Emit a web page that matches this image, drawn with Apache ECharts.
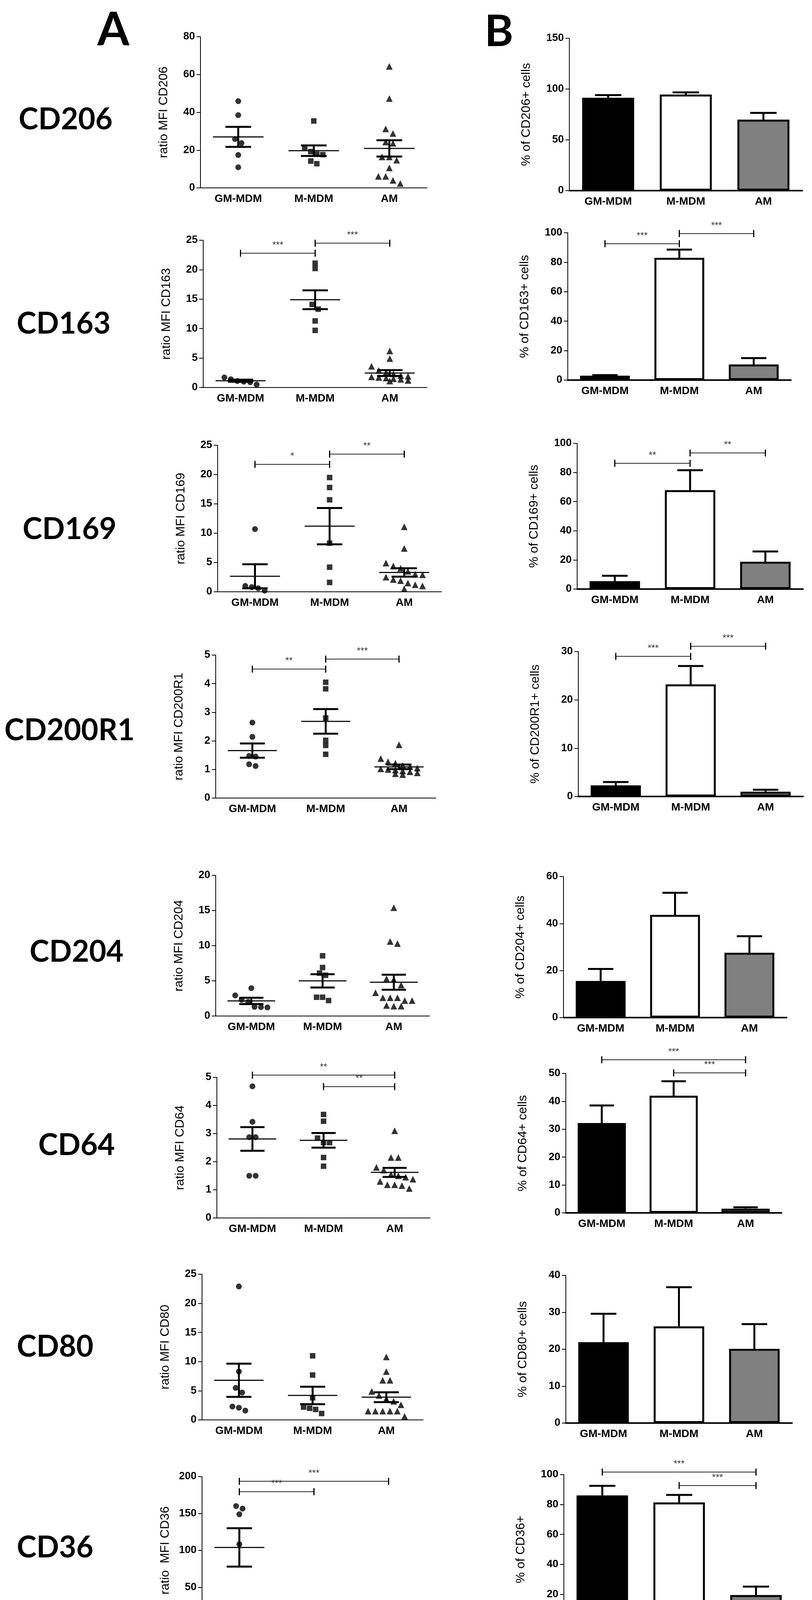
<!DOCTYPE html>
<html lang="en">
<head>
<meta charset="UTF-8">
<title>Macrophage markers</title>
<script src="https://cdn.jsdelivr.net/npm/echarts@6/dist/echarts.min.js"></script>
<style>
  html, body { margin: 0; padding: 0; background: #fff; }
  #chart { width: 2078px; height: 4242px; }
</style>
</head>
<body>
<div id="chart"></div>
<script>
// ---- data ----
var categories = ['GM-MDM', 'M-MDM', 'AM'];
var markers = ['CD206', 'CD163', 'CD169', 'CD200R1', 'CD204', 'CD64', 'CD80', 'CD36'];

// panel A: individual ratio MFI values, [GM-MDM, M-MDM, AM]
var cd206Points = [[45.9, 38.5, 25.9, 23.7, 17.4, 10.9], [35.4, 20.9, 19.2, 17.9, 17.6, 14.2, 12.8],
  [64.3, 47.3, 31.2, 28.8, 24.3, 23.6, 16.4, 16.4, 14.7, 10.6, 6.1, 6.1, 4.0, 2.3]];
var cd163Points = [[1.7, 1.4, 1.1, 1.0, 0.9, 0.5], [21.1, 20.2, 14.1, 13.3, 11.3, 9.7],
  [6.2, 4.9, 3.6, 2.9, 2.6, 2.3, 2.0, 1.9, 1.8, 1.7, 1.6, 1.5, 1.4, 1.2, 1.1]];
var cd169Points = [[10.7, 1.0, 0.8, 0.6, 0.2], [19.5, 17.8, 15.7, 8.3, 4.2, 1.6],
  [11.1, 7.4, 4.9, 4.4, 4.0, 3.5, 3.0, 2.9, 2.5, 2.1, 1.9, 1.5, 1.2, 1.0, 0.5]];
var cd200r1Points = [[2.64, 2.14, 1.47, 1.45, 1.18, 1.12], [4.05, 3.82, 2.8, 2.02, 1.84, 1.53],
  [1.86, 1.38, 1.27, 1.22, 1.14, 1.1, 1.05, 1.02, 1.0, 0.98, 0.95, 0.92, 0.88, 0.85, 0.82]];
var cd204Points = [[3.96, 2.93, 2.3, 2.0, 1.3, 1.26, 1.22], [8.56, 6.9, 6.1, 5.8, 2.67, 2.67, 2.2],
  [15.4, 10.6, 10.3, 5.3, 5.2, 4.4, 3.3, 2.6, 2.6, 2.6, 2.2, 2.2, 1.5, 1.4, 1.4]];
var cd64Points = [[4.68, 3.42, 2.87, 2.87, 1.5, 1.5], [3.68, 3.44, 2.84, 2.68, 2.68, 2.15, 1.84],
  [3.1, 2.15, 2.15, 1.8, 1.7, 1.55, 1.5, 1.45, 1.38, 1.3, 1.18, 1.18, 1.15, 1.05]];
var cd80Points = [[22.9, 8.3, 5.5, 4.7, 2.3, 2.1, 1.6], [11.0, 7.7, 3.8, 2.2, 2.0, 1.8, 1.1],
  [10.8, 8.3, 6.8, 6.8, 4.9, 4.2, 3.6, 3.2, 2.6, 1.5, 1.5, 1.5, 1.5, 1.5, 0.6]];
var cd36Points = [[160, 156.6, 148.9, 108.3, 24.7, 24.7], [28.2, 26.5, 21.9, 19.0, 17.3, 17.3, 5.3],
  [14.8, 10.6, 7.0, 6.0, 4.2, 3.5, 2.5, 2.5, 2.5, 2.0, 1.8, 1.5, 1.2, 1.0]];
var mfiPoints = [cd206Points, cd163Points, cd169Points, cd200r1Points, cd204Points, cd64Points, cd80Points, cd36Points];

// mean and SEM lines drawn on the dot plots
var mfiMean = [[27.0, 19.7, 20.9], [1.15, 14.9, 2.45], [2.65, 11.2, 3.3], [1.66, 2.68, 1.09],
  [2.15, 5.0, 4.8], [2.81, 2.76, 1.62], [6.8, 4.2, 3.9], [104, 18.7, 3.8]];
var mfiSem = [[5.3, 2.8, 4.3], [0.17, 1.6, 0.5], [2.05, 3.1, 0.72], [0.25, 0.43, 0.08],
  [0.45, 0.95, 1.07], [0.42, 0.26, 0.16], [2.85, 1.5, 0.85], [26, 2.8, 1.1]];

// panel B: % positive cells, mean and SEM
var pctMean = [[91.4, 94.6, 69.9], [3.0, 83.0, 10.6], [5.4, 67.9, 18.8], [2.3, 23.2, 1.0],
  [15.6, 43.7, 27.6], [32.2, 42.0, 1.5], [21.9, 26.2, 20.1], [86.1, 81.4, 19.5]];
var pctSem = [[2.6, 2.1, 6.6], [0.4, 5.6, 4.3], [3.7, 13.7, 7.0], [0.7, 3.8, 0.4],
  [5.1, 9.4, 7.0], [6.3, 5.2, 0.5], [7.7, 10.6, 6.7], [6.4, 5.0, 5.6]];

// significance brackets: [from, to, height, stars]
var mfiSig = [[], [[0, 1, 22.8, '***'], [1, 2, 24.5, '***']], [[0, 1, 21.75, '*'], [1, 2, 23.5, '**']],
  [[0, 1, 4.51, '**'], [1, 2, 4.86, '***']], [], [[0, 2, 5.08, '**'], [1, 2, 4.67, '**']], [],
  [[0, 2, 193.6, '***'], [0, 1, 179.5, '***']]];
var pctSig = [[], [[0, 1, 92.6, '***'], [1, 2, 99.5, '***']], [[0, 1, 86.3, '**'], [1, 2, 93.4, '**']],
  [[0, 1, 29.0, '***'], [1, 2, 31.1, '***']], [], [[0, 2, 54.9, '***'], [1, 2, 50.2, '***']], [],
  [[0, 2, 101.7, '***'], [1, 2, 92.7, '***']]];

// axis ticks
var mfiAxisMax = [80, 25, 25, 5, 20, 5, 25, 200];
var mfiAxisStep = [20, 5, 5, 1, 5, 1, 5, 50];
var pctAxisMax = [150, 100, 100, 30, 60, 50, 40, 100];
var pctAxisStep = [50, 20, 20, 10, 20, 10, 10, 20];

var mfiNames = ['ratio MFI CD206', 'ratio MFI CD163', 'ratio MFI CD169', 'ratio MFI CD200R1',
  'ratio MFI CD204', 'ratio MFI CD64', 'ratio MFI CD80', 'ratio  MFI CD36'];
var pctNames = ['% of CD206+ cells', '% of CD163+ cells', '% of CD169+ cells', '% of CD200R1+ cells',
  '% of CD204+ cells', '% of CD64+ cells', '% of CD80+ cells', '% of CD36+'];

// ---- layout ----
// plot boxes in pixels: left, top, right, bottom (zero line)
var leftBoxes = [[513, 94, 1093, 481], [520, 615, 1093, 992], [557, 1140, 1130, 1515], [552, 1677, 1115, 2043],
  [552, 2241, 1099, 2601], [555, 2758, 1101, 3118], [517, 3262, 1083, 3635], [517, 3780, 1090, 4158]];
var rightBoxes = [[1457, 98, 2053, 488], [1453, 596, 2024, 973], [1477, 1135, 2055, 1508], [1480, 1668, 2055, 2039],
  [1442, 2244, 2013, 2605], [1448, 2748, 2000, 3105], [1448, 3265, 2027, 3643], [1443, 3775, 2033, 4158]];
var rowLabelPos = [[168, 306], [163, 829], [178, 1355], [178, 1870], [196, 2437], [196, 2932], [141, 3448], [141, 3962]];

var FONT = 'Liberation Sans, Arial, sans-serif';
var symbols = ['circle', 'rect', 'triangle'];
var symbolSizes = [15, 14, 17];
var barColors = ['#000000', '#ffffff', '#808080'];

var grids = [], xAxes = [], yAxes = [], series = [];

// spread points with nearly equal values sideways, like a dot plot
function spreadOffsets(values, pxPerUnit, size) {
  var order = values.map(function (v, i) { return i; }).sort(function (a, b) { return values[b] - values[a]; });
  var offs = values.map(function () { return 0; });
  var cluster = [];
  function flush() {
    var n = cluster.length;
    cluster.forEach(function (k, j) { offs[k] = (j - (n - 1) / 2) * size * 1.1; });
  }
  order.forEach(function (k) {
    if (cluster.length && ((values[cluster[cluster.length - 1]] - values[k]) * pxPerUnit >= size * 0.9 || cluster.length >= 6)) {
      flush();
      cluster = [];
    }
    cluster.push(k);
  });
  flush();
  return offs;
}

function addAxes(box, max, step, name, nameGap, thickX) {
  grids.push({ left: box[0], top: box[1], width: box[2] - box[0], height: box[3] - box[1], containLabel: false });
  var gi = grids.length - 1;
  xAxes.push({
    type: 'category', gridIndex: gi, data: categories,
    axisLine: { lineStyle: { color: '#000', width: thickX ? 4 : 2 } },
    axisTick: { alignWithLabel: true, length: 12, lineStyle: { color: '#000', width: 2 } },
    axisLabel: { color: '#000', fontFamily: FONT, fontWeight: 'bold', fontSize: 28, margin: 14 },
    splitLine: { show: false }
  });
  yAxes.push({
    type: 'value', gridIndex: gi, min: 0, max: max, interval: step,
    name: name, nameLocation: 'middle', nameGap: nameGap, nameRotate: 90,
    nameTextStyle: { color: '#000', fontFamily: FONT, fontSize: 32 },
    axisLine: { show: true, lineStyle: { color: '#000', width: 2 } },
    axisTick: { show: true, length: 10, lineStyle: { color: '#000', width: 2 } },
    axisLabel: { color: '#000', fontFamily: FONT, fontWeight: 'bold', fontSize: 27, margin: 14 },
    splitLine: { show: false }
  });
  return gi;
}

function bracketSeries(gi, sig) {
  return {
    type: 'custom', xAxisIndex: gi, yAxisIndex: gi, clip: false, z: 5,
    data: sig.map(function (s) { return [s[0], s[2], s[1]]; }),
    encode: { x: [0, 2], y: 1 },
    renderItem: function (params, api) {
      var s = sig[params.dataIndex];
      var a = api.coord([s[0], s[2]]);
      var b = api.coord([s[1], s[2]]);
      return {
        type: 'group', children: [
          { type: 'line', shape: { x1: a[0], y1: a[1], x2: b[0], y2: b[1] }, style: { stroke: '#222', lineWidth: 2 } },
          { type: 'line', shape: { x1: a[0], y1: a[1] - 9, x2: a[0], y2: a[1] + 9 }, style: { stroke: '#000', lineWidth: 3 } },
          { type: 'line', shape: { x1: b[0], y1: b[1] - 9, x2: b[0], y2: b[1] + 9 }, style: { stroke: '#000', lineWidth: 3 } },
          { type: 'text', x: (a[0] + b[0]) / 2, y: a[1] - 8,
            style: { text: s[3], fill: '#333', fontSize: 24, fontFamily: FONT, textAlign: 'center', textVerticalAlign: 'bottom' } }
        ]
      };
    }
  };
}

markers.forEach(function (mk, r) {
  // ---- panel A: dot plot ----
  var lb = leftBoxes[r];
  var gi = addAxes(lb, mfiAxisMax[r], mfiAxisStep[r], mfiNames[r], 78, false);
  var pxPerUnit = (lb[3] - lb[1]) / mfiAxisMax[r];
  mfiPoints[r].forEach(function (vals, g) {
    var offs = spreadOffsets(vals, pxPerUnit, symbolSizes[g]);
    series.push({
      type: 'scatter', xAxisIndex: gi, yAxisIndex: gi, symbol: symbols[g], symbolSize: symbolSizes[g],
      itemStyle: { color: '#000' }, z: 2,
      data: vals.map(function (v, k) { return { value: [g, v], symbolOffset: [offs[k], 0] }; })
    });
  });
  (function (means, sems) {
    series.push({
      type: 'custom', xAxisIndex: gi, yAxisIndex: gi, z: 4,
      data: means.map(function (m, g) { return [g, m]; }),
      encode: { x: 0, y: 1 },
      renderItem: function (params, api) {
        var g = params.dataIndex;
        var bw = api.size([1, 0])[0];
        var c = api.coord([g, means[g]]);
        var hi = api.coord([g, means[g] + sems[g]]);
        var lo = api.coord([g, means[g] - sems[g]]);
        var w = bw * 0.335, cw = bw * 0.17;
        return {
          type: 'group', children: [
            { type: 'line', shape: { x1: c[0] - w, y1: c[1], x2: c[0] + w, y2: c[1] }, style: { stroke: '#111', lineWidth: 3 } },
            { type: 'line', shape: { x1: c[0], y1: hi[1], x2: c[0], y2: lo[1] }, style: { stroke: '#000', lineWidth: 5 } },
            { type: 'line', shape: { x1: c[0] - cw, y1: hi[1], x2: c[0] + cw, y2: hi[1] }, style: { stroke: '#000', lineWidth: 5 } },
            { type: 'line', shape: { x1: c[0] - cw, y1: lo[1], x2: c[0] + cw, y2: lo[1] }, style: { stroke: '#000', lineWidth: 5 } }
          ]
        };
      }
    });
  })(mfiMean[r], mfiSem[r]);
  series.push(bracketSeries(gi, mfiSig[r]));

  // ---- panel B: bars ----
  var gj = addAxes(rightBoxes[r], pctAxisMax[r], pctAxisStep[r], pctNames[r], 94, true);
  series.push({
    type: 'bar', xAxisIndex: gj, yAxisIndex: gj, barWidth: '67%', z: 2,
    data: pctMean[r].map(function (v, g) {
      return { value: v, itemStyle: { color: barColors[g], borderColor: '#000', borderWidth: 5 } };
    })
  });
  (function (means, sems) {
    series.push({
      type: 'custom', xAxisIndex: gj, yAxisIndex: gj, z: 3,
      data: means.map(function (m, g) { return [g, m]; }),
      encode: { x: 0, y: 1 },
      renderItem: function (params, api) {
        var g = params.dataIndex;
        var bw = api.size([1, 0])[0];
        var c = api.coord([g, means[g]]);
        var hi = api.coord([g, means[g] + sems[g]]);
        var cw = bw * 0.17;
        return {
          type: 'group', children: [
            { type: 'line', shape: { x1: c[0], y1: c[1], x2: c[0], y2: hi[1] }, style: { stroke: '#000', lineWidth: 5 } },
            { type: 'line', shape: { x1: c[0] - cw, y1: hi[1], x2: c[0] + cw, y2: hi[1] }, style: { stroke: '#000', lineWidth: 5 } }
          ]
        };
      }
    });
  })(pctMean[r], pctSem[r]);
  series.push(bracketSeries(gj, pctSig[r]));
});

// row and panel labels
var graphics = markers.map(function (mk, r) {
  return {
    type: 'text', x: rowLabelPos[r][0], y: rowLabelPos[r][1],
    style: { text: mk, fill: '#000', fontFamily: 'Lato, Open Sans, sans-serif', fontWeight: 'bold', fontSize: 76,
      textAlign: 'center', textVerticalAlign: 'middle' }
  };
});
graphics.push({ type: 'text', x: 290, y: 78, style: { text: 'A', fill: '#000', fontFamily: 'Lato, sans-serif', fontWeight: 'bold', fontSize: 118, textAlign: 'center', textVerticalAlign: 'middle' } });
graphics.push({ type: 'text', x: 1277, y: 82, style: { text: 'B', fill: '#000', fontFamily: 'Lato, sans-serif', fontWeight: 'bold', fontSize: 112, textAlign: 'center', textVerticalAlign: 'middle' } });

var chart = echarts.init(document.getElementById('chart'), null, { renderer: 'canvas' });
chart.setOption({
  backgroundColor: '#ffffff',
  animation: false,
  grid: grids,
  xAxis: xAxes,
  yAxis: yAxes,
  series: series,
  graphic: graphics
});
</script>
</body>
</html>
